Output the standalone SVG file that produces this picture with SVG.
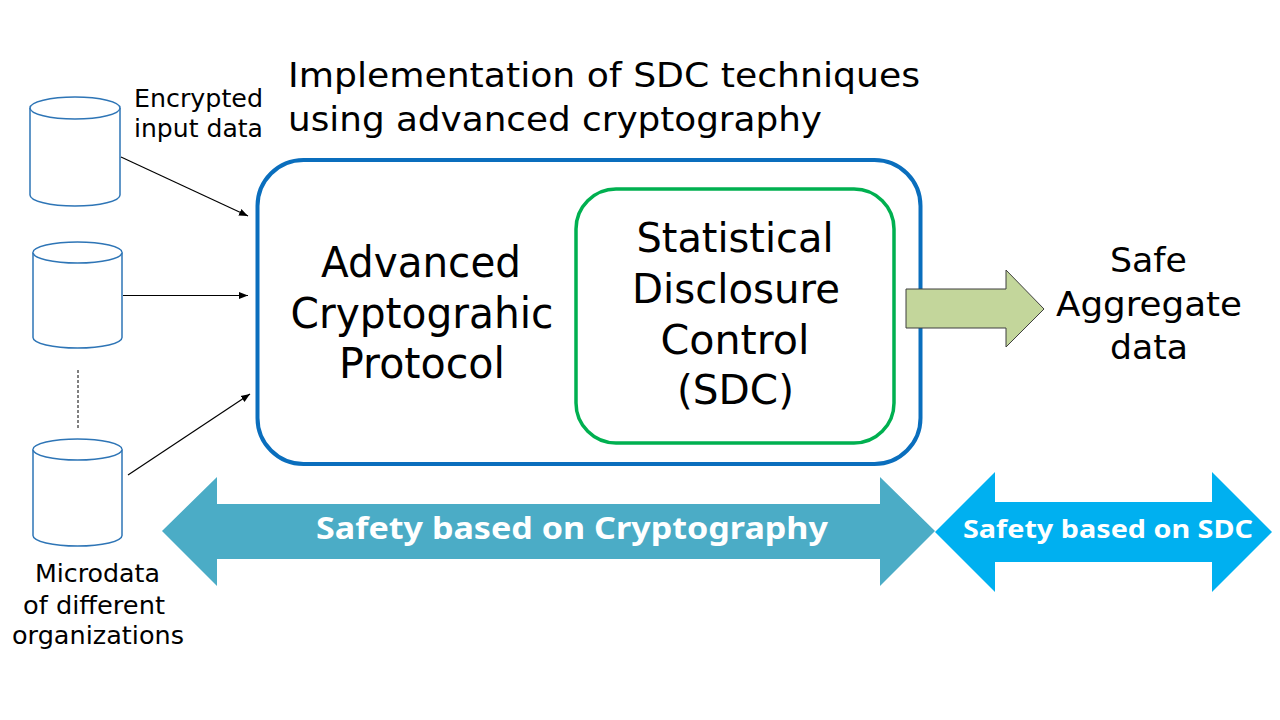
<svg xmlns="http://www.w3.org/2000/svg" width="1280" height="720" viewBox="0 0 1280 720">
<defs>
<style>
.t{font-family:"DejaVu Sans","Noto Sans",sans-serif;fill:#000;text-anchor:middle}
.b{font-family:"Noto Sans","Open Sans","DejaVu Sans",sans-serif;font-weight:bold;fill:#fff;text-anchor:middle}
.cyl{fill:#fff;stroke:#2E75B6;stroke-width:1.5}
.con{stroke:#000;stroke-width:1.2;fill:none}
</style>
<marker id="ah" viewBox="0 0 10 10" refX="10" refY="5" markerWidth="9" markerHeight="9" markerUnits="userSpaceOnUse" orient="auto">
<path d="M0,1 L10,5 L0,9 Z" fill="#000"/>
</marker>
</defs>
<rect width="1280" height="720" fill="#fff"/>

<g id="title">
<text class="t" x="604" y="87" font-size="33" textLength="632" lengthAdjust="spacingAndGlyphs">Implementation of SDC techniques</text>
<text class="t" x="555" y="131" font-size="33" textLength="534" lengthAdjust="spacingAndGlyphs">using advanced cryptography</text>
</g>

<g id="db1">
<path class="cyl" d="M30,108 A45,11 0 0 1 120,108 L120,195 A45,11 0 0 1 30,195 Z"/>
<path class="cyl" d="M30,108 A45,11 0 0 0 120,108" fill="none"/>
</g>
<g id="db2">
<path class="cyl" d="M33,252.5 A44.5,10.5 0 0 1 122,252.5 L122,337.5 A44.5,10.5 0 0 1 33,337.5 Z"/>
<path class="cyl" d="M33,252.5 A44.5,10.5 0 0 0 122,252.5" fill="none"/>
</g>
<g id="db3">
<path class="cyl" d="M33,449.5 A44.5,10.5 0 0 1 122,449.5 L122,535.5 A44.5,10.5 0 0 1 33,535.5 Z"/>
<path class="cyl" d="M33,449.5 A44.5,10.5 0 0 0 122,449.5" fill="none"/>
</g>

<g id="label-encrypted">
<text class="t" x="198.5" y="107" font-size="25" textLength="129" lengthAdjust="spacingAndGlyphs">Encrypted</text>
<text class="t" x="198.5" y="137" font-size="25" textLength="129" lengthAdjust="spacingAndGlyphs">input data</text>
</g>
<g id="label-microdata">
<text class="t" x="97.5" y="582" font-size="25" textLength="125" lengthAdjust="spacingAndGlyphs">Microdata</text>
<text class="t" x="94" y="614" font-size="25" textLength="142" lengthAdjust="spacingAndGlyphs">of different</text>
<text class="t" x="98" y="644" font-size="25" textLength="172" lengthAdjust="spacingAndGlyphs">organizations</text>
</g>

<g id="connectors">
<line class="con" x1="121" y1="157" x2="248" y2="216" marker-end="url(#ah)"/>
<line class="con" x1="123" y1="295.5" x2="248" y2="295.5" marker-end="url(#ah)"/>
<line class="con" x1="128" y1="475" x2="250" y2="394" marker-end="url(#ah)"/>
<line x1="78" y1="370" x2="78" y2="430" stroke="#000" stroke-width="1" stroke-dasharray="3,2"/>
</g>

<g id="protocol">
<rect x="257.5" y="160" width="663" height="304" rx="46" ry="46" fill="#fff" stroke="#0A6EBD" stroke-width="4"/>
<text class="t" x="421" y="277" font-size="42" textLength="200" lengthAdjust="spacingAndGlyphs">Advanced</text>
<text class="t" x="422" y="328" font-size="42" textLength="263" lengthAdjust="spacingAndGlyphs">Cryptograhic</text>
<text class="t" x="422" y="378" font-size="42" textLength="166" lengthAdjust="spacingAndGlyphs">Protocol</text>
</g>

<g id="sdc">
<rect x="576" y="189" width="318" height="254" rx="40" ry="40" fill="#fff" stroke="#00B050" stroke-width="3.5"/>
<text class="t" x="735" y="252" font-size="41" textLength="197" lengthAdjust="spacingAndGlyphs">Statistical</text>
<text class="t" x="736" y="303" font-size="41" textLength="208" lengthAdjust="spacingAndGlyphs">Disclosure</text>
<text class="t" x="735" y="354" font-size="41" textLength="149" lengthAdjust="spacingAndGlyphs">Control</text>
<text class="t" x="735.5" y="404" font-size="41" textLength="117" lengthAdjust="spacingAndGlyphs">(SDC)</text>
</g>

<g id="output-arrow">
<path d="M906,289 L1006,289 L1006,270 L1044,309 L1006,347 L1006,328 L906,328 Z" fill="#C3D69B" stroke="#3F3F3F" stroke-width="1"/>
</g>

<g id="safe-aggregate">
<text class="t" x="1148.5" y="272" font-size="34" textLength="77" lengthAdjust="spacingAndGlyphs">Safe</text>
<text class="t" x="1149" y="316" font-size="34" textLength="186" lengthAdjust="spacingAndGlyphs">Aggregate</text>
<text class="t" x="1149" y="359" font-size="34" textLength="78" lengthAdjust="spacingAndGlyphs">data</text>
</g>

<g id="crypto-safety">
<path d="M162,531 L217,477 L217,504 L880,504 L880,477 L935,531 L880,586 L880,559 L217,559 L217,586 Z" fill="#4BACC6"/>
<text class="b" x="572" y="539" font-size="31" textLength="512" lengthAdjust="spacingAndGlyphs">Safety based on Cryptography</text>
</g>

<g id="sdc-safety">
<path d="M935,532 L995,472 L995,502 L1212,502 L1212,472 L1272,532 L1212,592 L1212,562 L995,562 L995,592 Z" fill="#00B0F0"/>
<text class="b" x="1108" y="538" font-size="25" textLength="290" lengthAdjust="spacingAndGlyphs">Safety based on SDC</text>
</g>
</svg>
